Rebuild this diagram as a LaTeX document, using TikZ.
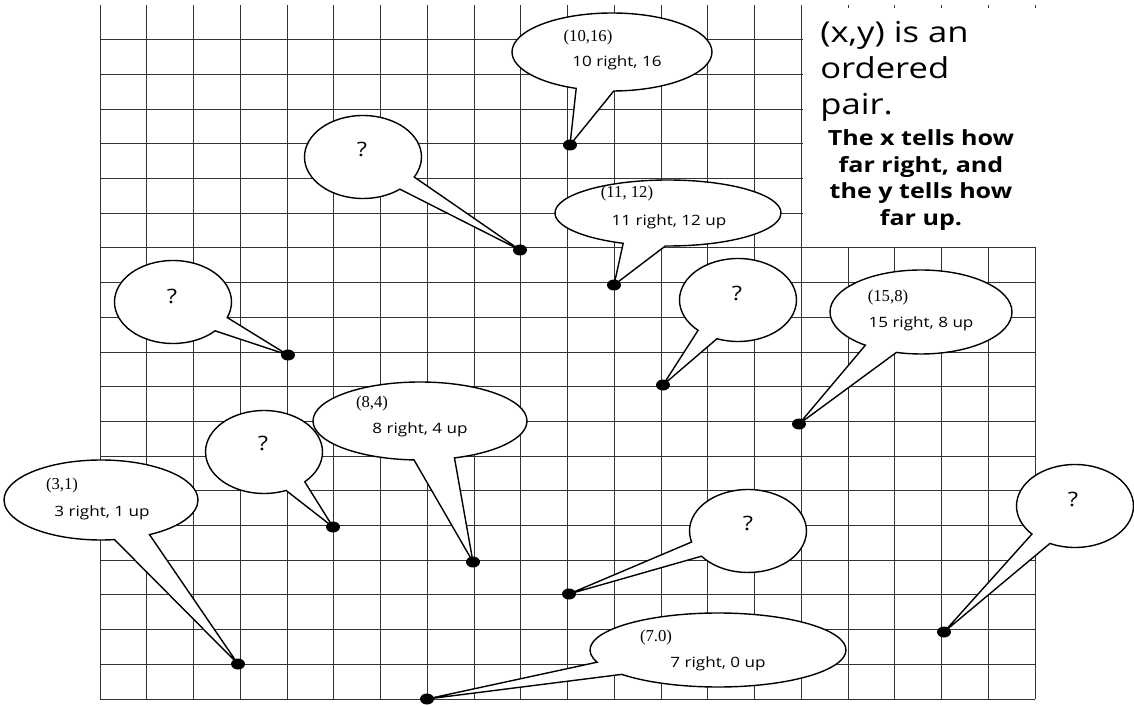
\documentclass[tikz,border=0pt]{standalone}
\usepackage{fontspec}
\usetikzlibrary{shapes.callouts,shapes.geometric}
\newfontfamily\comic{Open Sans}[FakeStretch=1.2]
\newfontfamily\tms{Liberation Serif}
\tikzset{
  gridline/.style={draw=black!80, line width=0.55pt},
  bubble/.style={ellipse callout, draw=black, fill=white, line width=0.8pt, inner sep=0pt, callout pointer arc=22},
  qbub/.style={bubble, minimum width=117*0.02cm, minimum height=83*0.02cm},
  dotmark/.style={ellipse, fill=black, draw=none, inner sep=0pt, minimum width=14*0.02cm, minimum height=11*0.02cm},
  ctext/.style={font=\comic\fontsize{8.1pt}{9pt}\selectfont, inner sep=0pt},
  ttext/.style={font=\tms\fontsize{9.5pt}{11pt}\selectfont, inner sep=0pt},
  qtext/.style={font=\comic\fontsize{11.3pt}{13pt}\selectfont, inner sep=0pt},
  bigtext/.style={font=\comic\fontsize{16.4pt}{18pt}\selectfont, inner sep=0pt, anchor=base west},
  boldtext/.style={font=\comic\bfseries\fontsize{11.9pt}{14pt}\selectfont, inner sep=0pt, anchor=base}
}
\begin{document}
\begin{tikzpicture}[x=0.02cm, y=-0.02cm]
\useasboundingbox (0,0) rectangle (1134,706);
% grid
\foreach \i in {0,...,20} \draw[gridline] (100+46.75*\i,5) -- (100+46.75*\i,699);
\foreach \j in {0,...,19} \draw[gridline] (100,699-34.7*\j) -- (1035,699-34.7*\j);
\fill[white] (803,8.5) rectangle (1045,247);
% pointer coordinates
\coordinate (p1) at (570,145);
\coordinate (p2) at (614,285);
\coordinate (p3) at (520,250);
\coordinate (p4) at (288,355);
\coordinate (p5) at (663,385);
\coordinate (p6) at (799,424);
\coordinate (p7) at (473,562);
\coordinate (p8) at (333,527);
\coordinate (p9) at (238,664);
\coordinate (p10) at (569,594);
\coordinate (p11) at (427,699);
\coordinate (p12) at (944,632);
% bubbles
\node[bubble, minimum width=200*0.02cm, minimum height=78*0.02cm, callout absolute pointer=(p1)] (b1) at (612,52) {};
\node[bubble, minimum width=226*0.02cm, minimum height=66*0.02cm, callout absolute pointer=(p2)] (b2) at (668,213) {};
\node[qbub, callout absolute pointer=(p3)] (b3) at (363,157) {};
\node[qbub, callout absolute pointer=(p4)] (b4) at (173,302) {};
\node[qbub, callout absolute pointer=(p5)] (b5) at (738,300) {};
\node[bubble, minimum width=182*0.02cm, minimum height=84*0.02cm, callout absolute pointer=(p6)] (b6) at (921,312) {};
\node[bubble, minimum width=214*0.02cm, minimum height=78*0.02cm, callout absolute pointer=(p7)] (b7) at (420,421) {};
\node[qbub, callout absolute pointer=(p8)] (b8) at (264,452) {};
\node[bubble, minimum width=194*0.02cm, minimum height=80*0.02cm, callout absolute pointer=(p9)] (b9) at (101,500) {};
\node[qbub, callout absolute pointer=(p10)] (b10) at (748,531) {};
\node[bubble, minimum width=256*0.02cm, minimum height=74*0.02cm, callout absolute pointer=(p11)] (b11) at (718,650) {};
\node[qbub, callout absolute pointer=(p12)] (b12) at (1075,506) {};
% dots
\foreach \k in {1,...,12} \node[dotmark] (d\k) at (p\k) {};
% bubble texts
\node[ttext] (t1a) at (588,37) {(10,16)};
\node[ctext] (t1b) at (617,63) {10 right, 16};
\node[ttext] (t2a) at (627,193) {(11, 12)};
\node[ctext] (t2b) at (669,222) {11 right, 12 up};
\node[qtext] (q3) at (362,149) {?};
\node[qtext] (q4) at (172,296) {?};
\node[qtext] (q5) at (737,293) {?};
\node[ttext] (t6a) at (888,297) {(15,8)};
\node[ctext] (t6b) at (921,324) {15 right, 8 up};
\node[ttext] (t7a) at (372,403) {(8,4)};
\node[ctext] (t7b) at (420,430) {8 right, 4 up};
\node[qtext] (q8) at (263,443) {?};
\node[ttext] (t9a) at (62,485) {(3,1)};
\node[ctext] (t9b) at (102,513) {3 right, 1 up};
\node[qtext] (q10) at (748,523) {?};
\node[ttext] (t11a) at (656,637) {(7.0)};
\node[ctext] (t11b) at (718,664) {7 right, 0 up};
\node[qtext] (q12) at (1073,499) {?};
% top-right text
\node[bigtext] (h1) at (820,43) {(x,y) is an};
\node[bigtext] (h2) at (820,79) {ordered};
\node[bigtext] (h3) at (820,115) {pair.};
\node[boldtext] (e1) at (921,146) {The x tells how};
\node[boldtext] (e2) at (921,172.5) {far right, and};
\node[boldtext] (e3) at (921,199) {the y tells how};
\node[boldtext] (e4) at (921,225.5) {far up.};
\end{tikzpicture}
\end{document}
